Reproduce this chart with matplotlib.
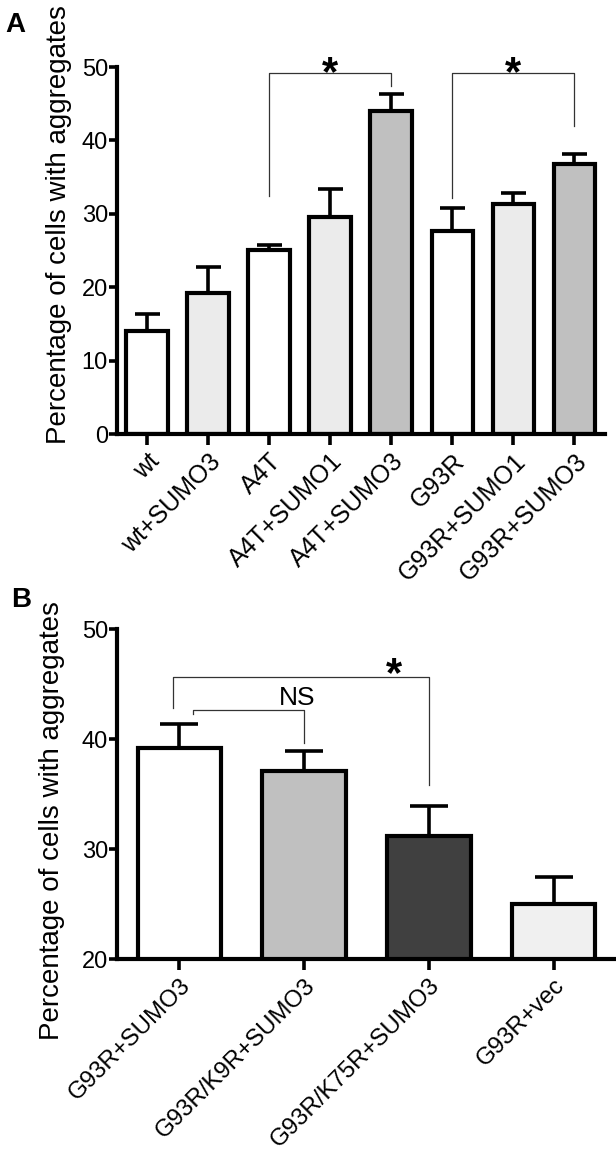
import matplotlib
matplotlib.use("Agg")
import matplotlib.pyplot as plt

plt.rcParams['font.family'] = ['Liberation Sans', 'DejaVu Sans']

# Panel A data
cats_a = ["wt", "wt+SUMO3", "A4T", "A4T+SUMO1", "A4T+SUMO3", "G93R", "G93R+SUMO1", "G93R+SUMO3"]
vals_a = [14.0, 19.2, 25.1, 29.5, 44.0, 27.7, 31.3, 36.8]
errs_a = [2.3, 3.5, 0.7, 3.9, 2.3, 3.1, 1.5, 1.4]
cols_a = ["#ffffff", "#ebebeb", "#ffffff", "#ebebeb", "#c0c0c0", "#ffffff", "#ebebeb", "#c0c0c0"]

# Panel B data
cats_b = ["G93R+SUMO3", "G93R/K9R+SUMO3", "G93R/K75R+SUMO3", "G93R+vec"]
vals_b = [39.2, 37.1, 31.2, 25.0]
errs_b = [2.2, 1.8, 2.7, 2.5]
cols_b = ["#ffffff", "#c0c0c0", "#404040", "#f0f0f0"]

W, H = 616, 1158
fig = plt.figure(figsize=(W / 100, H / 100), dpi=100)

def px_axes(left, top, right, bottom):
    return fig.add_axes([left / W, 1 - bottom / H, (right - left) / W, (bottom - top) / H])

def style(ax, xsize):
    for s in ["top", "right"]:
        ax.spines[s].set_visible(False)
    for s in ["left", "bottom"]:
        ax.spines[s].set_linewidth(3.0)
        ax.spines[s].set_color("black")
        ax.spines[s].set_capstyle("projecting")
    ax.tick_params(axis="y", length=6, width=2.6, labelsize=17, pad=0.5)
    ax.tick_params(axis="x", length=8, width=2.6, labelsize=xsize, pad=3)

def bracket(ax, x1, x2, ytop, y1, y2, lw=0.9):
    ax.plot([x1, x1, x2, x2], [y1, ytop, ytop, y2], color="#333333", lw=lw, clip_on=False)

YLABEL = "Percentage of cells with aggregates"

# ---- Panel A ----
axA = px_axes(117, 67, 605, 434)
xa = list(range(len(cats_a)))
axA.bar(xa, vals_a, width=0.68, color=cols_a, edgecolor="black", linewidth=3.0, zorder=2)
axA.errorbar(xa, vals_a, yerr=[[0] * len(errs_a), errs_a], fmt="none", ecolor="black",
             elinewidth=2.6, capsize=9, capthick=2.6, zorder=1)
axA.set_xlim(-0.49, 7.5)
axA.set_ylim(0, 50)
axA.set_yticks([0, 10, 20, 30, 40, 50])
axA.set_xticks(xa)
axA.set_xticklabels(cats_a, rotation=45, ha="right", rotation_mode="anchor")
axA.set_ylabel(YLABEL, fontsize=20)
axA.yaxis.set_label_coords(-0.092, 0.572)
style(axA, 18)
bracket(axA, 2, 4, 49.2, 32.4, 47.4)
bracket(axA, 5, 7, 49.2, 32.1, 41.9)
axA.text(3.0, 47.6, "*", ha="center", va="baseline", fontsize=30, fontweight="bold")
axA.text(6.0, 47.6, "*", ha="center", va="baseline", fontsize=30, fontweight="bold")

# ---- Panel B ----
axB = px_axes(117, 629, 616, 959)
xb = list(range(len(cats_b)))
axB.bar(xb, vals_b, width=0.67, color=cols_b, edgecolor="black", linewidth=3.0, zorder=2)
axB.errorbar(xb, vals_b, yerr=[[0] * len(errs_b), errs_b], fmt="none", ecolor="black",
             elinewidth=2.6, capsize=14, capthick=2.6, zorder=1)
axB.set_xlim(-0.5, 3.5)
axB.set_ylim(20, 50)
axB.set_yticks([20, 30, 40, 50])
axB.set_xticks(xb)
axB.set_xticklabels(cats_b, rotation=45, ha="right", rotation_mode="anchor")
axB.set_ylabel(YLABEL, fontsize=20)
axB.yaxis.set_label_coords(-0.104, 0.421)
style(axB, 17.3)
bracket(axB, -0.05, 2.0, 45.6, 42.8, 35.8)
bracket(axB, 0.11, 1.0, 42.6, 42.3, 39.6)
axB.text(1.72, 44.8, "*", ha="center", va="baseline", fontsize=30, fontweight="bold")
axB.text(0.94, 43.1, "NS", ha="center", va="baseline", fontsize=19)

fig.text(5 / W, 1 - 32 / H, "A", fontsize=20, fontweight="bold", ha="left", va="baseline")
fig.text(11 / W, 1 - 607 / H, "B", fontsize=20, fontweight="bold", ha="left", va="baseline")

fig.savefig("out.png", dpi=100)
